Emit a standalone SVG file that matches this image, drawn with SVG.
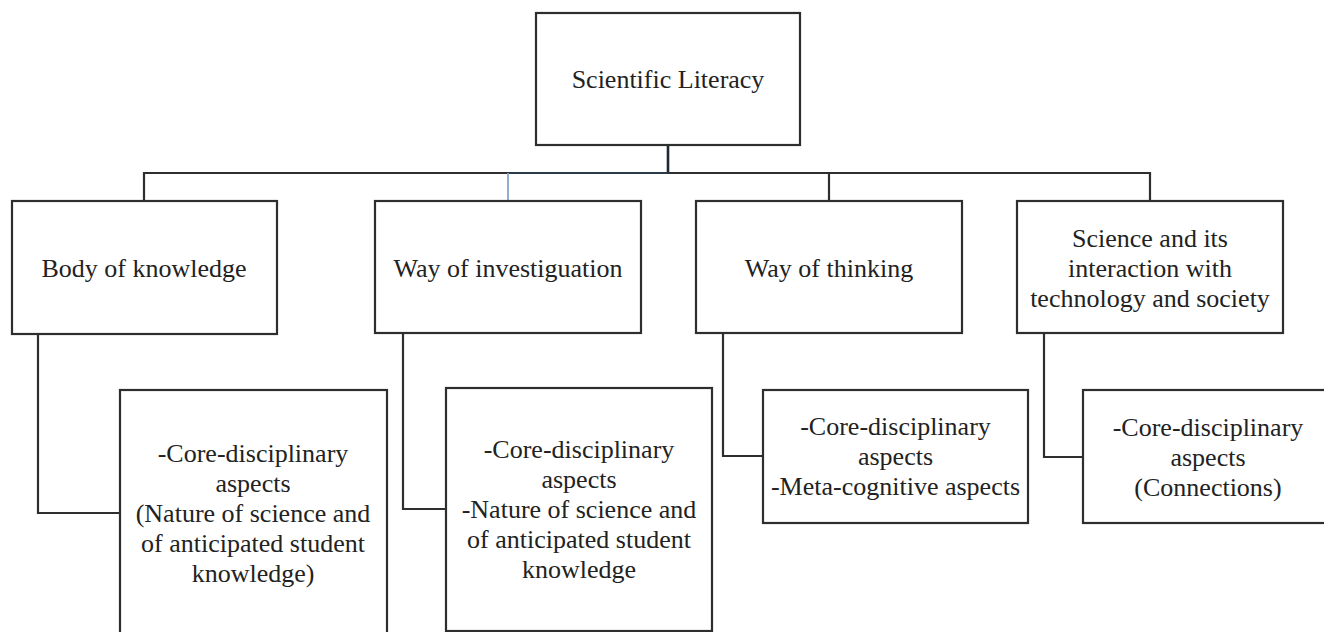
<svg xmlns="http://www.w3.org/2000/svg" width="1324" height="632" viewBox="0 0 1324 632">
<style>
.box{fill:#fff;stroke:#2e2e2e;stroke-width:2.2}
.t{font-family:'Liberation Serif','Tinos','Noto Serif','DejaVu Serif',serif;font-size:26px;fill:#222;text-anchor:middle}
.c{fill:none;stroke:#2e2e2e;stroke-width:2.2}
</style>
<rect width="1324" height="632" fill="#fff"/>
<g id="connectors">
<line class="c" x1="668" y1="145" x2="668" y2="173" style="stroke:#1c2836;stroke-width:2.6"/>
<polyline class="c" points="144,201 144,173 508,173"/>
<line class="c" x1="508" y1="173" x2="668" y2="173" style="stroke:#2b3a4a"/>
<polyline class="c" points="668,173 1150,173 1150,201"/>
<line class="c" x1="508" y1="173" x2="508" y2="201" style="stroke:#86a6cf;stroke-width:1.8"/>
<line class="c" x1="829" y1="173" x2="829" y2="201"/>
<polyline class="c" points="38,334 38,513 120,513"/>
<polyline class="c" points="403,333 403,509 446,509"/>
<polyline class="c" points="723,333 723,456 763,456"/>
<polyline class="c" points="1044,333 1044,457 1083,457"/>
</g>
<g id="scientific-literacy">
<rect class="box" x="536" y="13" width="264" height="132"/>
<text class="t" x="668" y="88" font-family="Liberation Serif, serif">Scientific Literacy</text>
</g>
<g id="body-of-knowledge">
<rect class="box" x="12" y="201" width="265" height="133"/>
<text class="t" x="144" y="277">Body of knowledge</text>
</g>
<g id="way-of-investigation">
<rect class="box" x="375" y="201" width="266" height="132"/>
<text class="t" x="508" y="277">Way of investiguation</text>
</g>
<g id="way-of-thinking">
<rect class="box" x="696" y="201" width="266" height="132"/>
<text class="t" x="829" y="277">Way of thinking</text>
</g>
<g id="science-interaction">
<rect class="box" x="1017" y="201" width="266" height="132"/>
<text class="t" x="1150" y="247">Science and its</text>
<text class="t" x="1150" y="277">interaction with</text>
<text class="t" x="1150" y="307">technology and society</text>
</g>
<g id="body-details">
<rect class="box" x="120" y="390" width="267" height="260"/>
<text class="t" x="253" y="462">-Core-disciplinary</text>
<text class="t" x="253" y="492">aspects</text>
<text class="t" x="253" y="522">(Nature of science and</text>
<text class="t" x="253" y="552">of anticipated student</text>
<text class="t" x="253" y="582">knowledge)</text>
</g>
<g id="investigation-details">
<rect class="box" x="446" y="388" width="266" height="243"/>
<text class="t" x="579" y="458">-Core-disciplinary</text>
<text class="t" x="579" y="488">aspects</text>
<text class="t" x="579" y="518">-Nature of science and</text>
<text class="t" x="579" y="548">of anticipated student</text>
<text class="t" x="579" y="578">knowledge</text>
</g>
<g id="thinking-details">
<rect class="box" x="763" y="390" width="265" height="133"/>
<text class="t" x="895.5" y="435">-Core-disciplinary</text>
<text class="t" x="895.5" y="465">aspects</text>
<text class="t" x="895.5" y="495">-Meta-cognitive aspects</text>
</g>
<g id="science-details">
<rect class="box" x="1083" y="390" width="260" height="133"/>
<text class="t" x="1208" y="436">-Core-disciplinary</text>
<text class="t" x="1208" y="466">aspects</text>
<text class="t" x="1208" y="496">(Connections)</text>
</g>
</svg>
